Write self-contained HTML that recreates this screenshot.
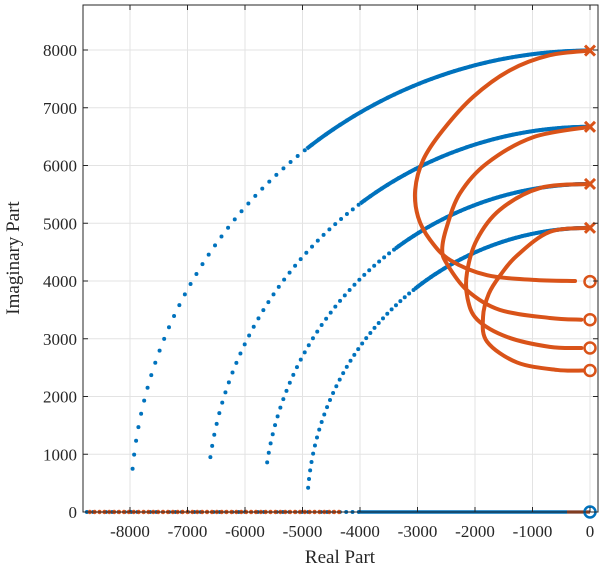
<!DOCTYPE html>
<html><head><meta charset="utf-8"><style>
body{margin:0;background:#fff}
svg{display:block;font-family:"Liberation Serif",serif}
</style></head><body>
<svg id="chart" width="605" height="573"></svg>
<script>
const xTicks=[-8000,-7000,-6000,-5000,-4000,-3000,-2000,-1000,0];
const yTicks=[0,1000,2000,3000,4000,5000,6000,7000,8000];
const blueRadii=[7990,6670,5680,4920];
const blueEndImag=[750,950,860,420];
const orangeRe1=[0,-700,-1390,-2030,-2560,-2900,-3040,-2990,-2780,-2430,-1790,-990,-260];
const orangeIm1=[7990,7910,7650,7190,6610,6100,5580,5110,4710,4360,4100,4020,4000];
const orangeRe2=[0,-990,-1790,-2260,-2490,-2570,-2490,-2140,-1570,-700,-150];
const orangeIm2=[6670,6490,6040,5520,4940,4550,4300,3840,3500,3360,3330];
const orangeRe3=[0,-870,-1570,-1970,-2140,-2130,-1960,-1440,-700,-150];
const orangeIm3=[5680,5610,5230,4710,4140,3700,3330,3030,2860,2840];
const orangeRe4=[0,-700,-1270,-1560,-1760,-1860,-1790,-1270,-570,-120];
const orangeIm4=[4920,4850,4440,4100,3780,3380,2950,2590,2460,2450];
const zerosImag=[3990,3330,2840,2450,0];
const polesImag=[7990,6670,5680,4920];

const L=83,R=590,T=5,B=512;
const X=v=>R+v/1000*57.5, Y=v=>B-v/1000*57.75;
const svg=document.getElementById('chart');
const NS='http://www.w3.org/2000/svg';
function el(t,a,p){const e=document.createElementNS(NS,t);for(const k in a)e.setAttribute(k,a[k]);(p||svg).appendChild(e);return e;}
const grid=el('g',{});


xTicks.forEach(v=>{el('line',{x1:X(v),x2:X(v),y1:T,y2:B,stroke:'#e3e3e3'},grid);});
yTicks.forEach(v=>{el('line',{x1:L,x2:598,y1:Y(v),y2:Y(v),stroke:'#e3e3e3'},grid);});
const plot=el('g',{});


for(let v=-8750;v<-4000;v+=110){const c=el('circle',{cx:X(v),cy:Y(0),r:2,fill:'#0072BD'},plot);}
for(let v=-8700;v<-4300;v+=85){const c=el('circle',{cx:X(v),cy:Y(0),r:2.2,fill:'#D95319'},plot);}
el('line',{x1:X(-4000),x2:X(0),y1:Y(0),y2:Y(0),stroke:'#0072BD','stroke-width':3.5},plot);
el('line',{x1:X(-400),x2:X(0),y1:Y(0),y2:Y(0),stroke:'#D95319','stroke-width':3},plot);
blueRadii.forEach((r,i)=>{
  const a1=Math.PI-Math.asin(blueEndImag[i]/r);
  const N=110;
  for(let k=0;k<=N;k++){const t=Math.pow(k/N,2.3);const a=Math.PI/2+(a1-Math.PI/2)*t;
    const c=el('circle',{cx:X(r*Math.cos(a)),cy:Y(r*Math.sin(a)),r:2,fill:'#0072BD'},plot);
    
    }
  const N2=60;let d='';
  for(let k=0;k<=N2;k++){const a=Math.PI/2+(a1-Math.PI/2)*0.45*k/N2;d+=(k?'L':'M')+X(r*Math.cos(a))+','+Y(r*Math.sin(a));}
  const p=el('path',{d:d,fill:'none',stroke:'#0072BD','stroke-width':4},plot);
  
  
});
function smooth(xs,ys){const P=xs.map((x,i)=>[X(x),Y(ys[i])]);let d='M'+P[0];
  for(let i=0;i<P.length-1;i++){const p0=P[i-1]||P[i],p1=P[i],p2=P[i+1],p3=P[i+2]||p2;
    d+='C'+(p1[0]+(p2[0]-p0[0])/6)+','+(p1[1]+(p2[1]-p0[1])/6)+' '+(p2[0]-(p3[0]-p1[0])/6)+','+(p2[1]-(p3[1]-p1[1])/6)+' '+p2[0]+','+p2[1];}
  return d;}
[[orangeRe1,orangeIm1],[orangeRe2,orangeIm2],[orangeRe3,orangeIm3],[orangeRe4,orangeIm4]].forEach(c=>{
  const p=el('path',{d:smooth(c[0],c[1]),fill:'none',stroke:'#D95319','stroke-width':4,'stroke-linecap':'round'},plot);
  
  
});
polesImag.forEach(v=>{const g=el('g',{stroke:'#D95319','stroke-width':3},plot);
  
  
  el('line',{x1:X(0)-5,y1:Y(v)-5,x2:X(0)+5,y2:Y(v)+5},g);el('line',{x1:X(0)-5,y1:Y(v)+5,x2:X(0)+5,y2:Y(v)-5},g);});
zerosImag.forEach((v,i)=>{const c=el('circle',{cx:X(0),cy:Y(v),r:5.5,fill:'none',stroke:i==4?'#0072BD':'#D95319','stroke-width':2.5},plot);
  
  });
const ax=el('g',{});


el('rect',{x:L,y:T,width:598-L,height:B-T,fill:'none',stroke:'#262626','stroke-width':1},ax);
xTicks.forEach(v=>{el('line',{x1:X(v),x2:X(v),y1:B,y2:B-5,stroke:'#262626'},ax);el('line',{x1:X(v),x2:X(v),y1:T,y2:T+5,stroke:'#262626'},ax);
  const t=el('text',{x:X(v),y:537,'text-anchor':'middle','font-size':17,fill:'#262626'},ax);t.textContent=v;
  });
yTicks.forEach(v=>{el('line',{x1:L,x2:L+5,y1:Y(v),y2:Y(v),stroke:'#262626'},ax);el('line',{x1:598,x2:593,y1:Y(v),y2:Y(v),stroke:'#262626'},ax);
  const t=el('text',{x:77,y:Y(v)+6,'text-anchor':'end','font-size':17,fill:'#262626'},ax);t.textContent=v;
  });
const xl=el('text',{x:340,y:563,'text-anchor':'middle','font-size':19,fill:'#262626'});xl.textContent='Real Part';

const yl=el('text',{x:0,y:0,transform:'translate(19,258) rotate(-90)','text-anchor':'middle','font-size':19,fill:'#262626'});yl.textContent='Imaginary Part';

</script>
</body></html>
